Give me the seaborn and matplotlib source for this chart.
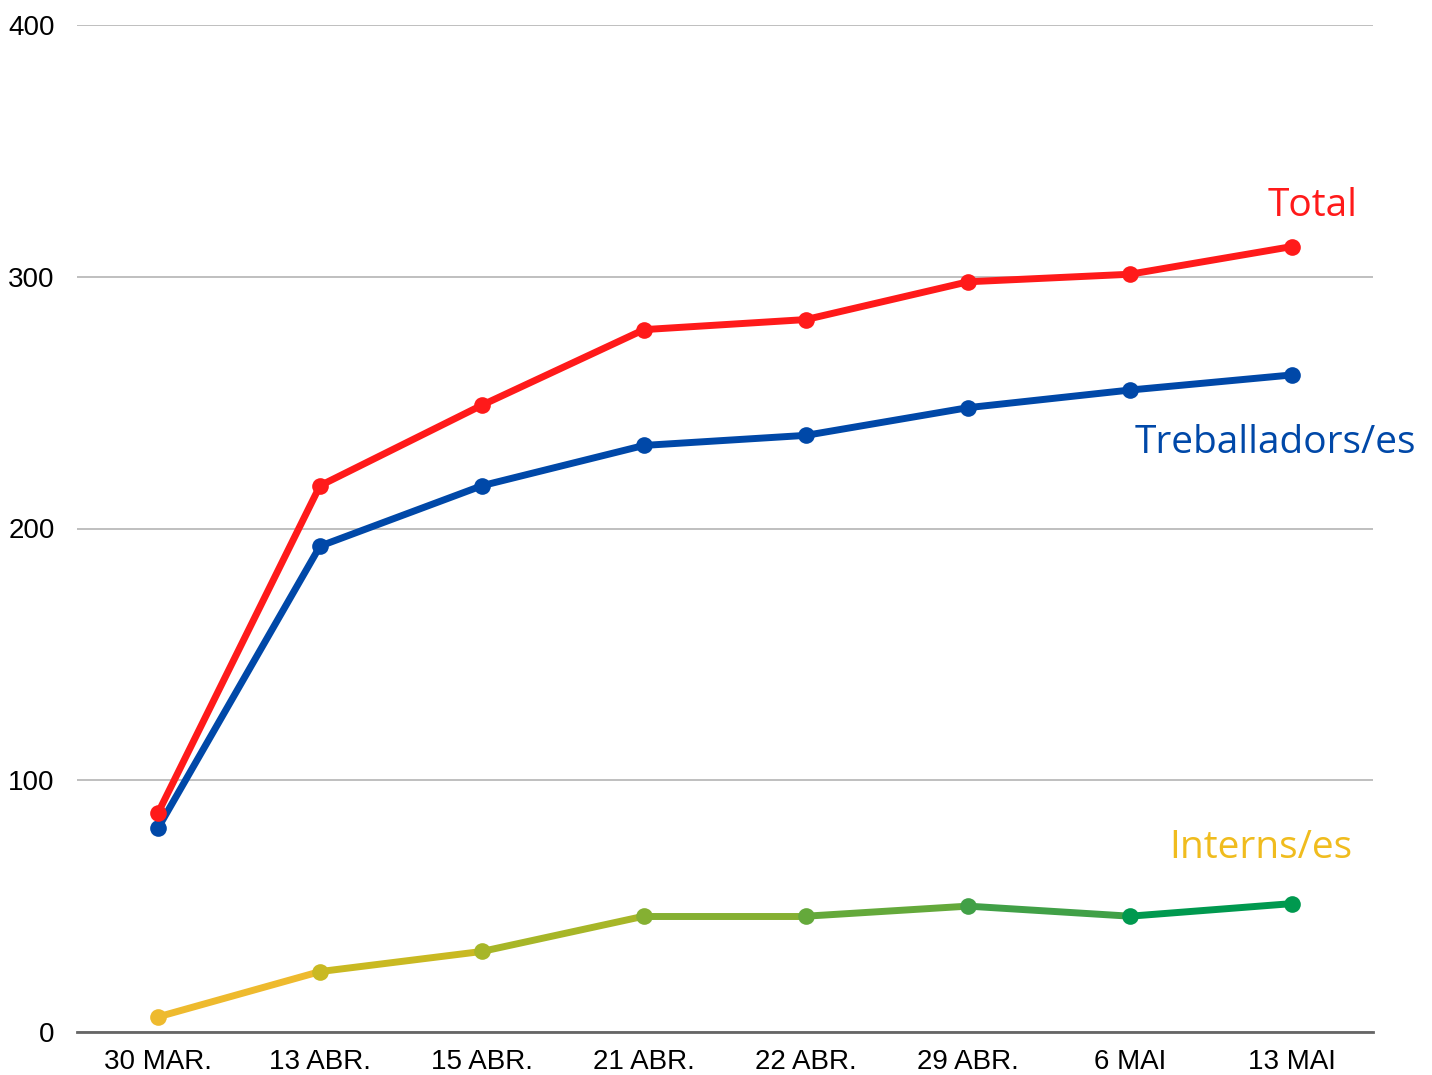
import matplotlib
matplotlib.use("Agg")
import matplotlib.pyplot as plt
import seaborn as sns
import numpy as np
import pandas as pd

# Data
dates = ["30 MAR.", "13 ABR.", "15 ABR.", "21 ABR.", "22 ABR.", "29 ABR.", "6 MAI", "13 MAI"]
total = [87, 217, 249, 279, 283, 298, 301, 312]
treballadors = [81, 193, 217, 233, 237, 248, 255, 261]
interns = [6, 24, 32, 46, 46, 50, 46, 51]

# colour per point of the interns line (yellow -> green)
interns_colors = ["#EEBA2E", "#C9B922", "#A7B628", "#85B032",
                  "#64A93B", "#41A047", "#00994F", "#00994F"]

RED = "#FF1A1A"
BLUE = "#0048A8"

sns.set_style("white")
plt.rcParams['font.family'] = ['Liberation Sans', 'DejaVu Sans']

fig = plt.figure(figsize=(14.32, 10.75), dpi=100)
ax = fig.add_axes([77 / 1432, 1 - 1032 / 1075, (1373 - 77) / 1432, (1032 - 25) / 1075])

x = np.arange(len(dates))
df = pd.DataFrame({"x": x, "Total": total, "Treballadors": treballadors, "Interns": interns})

lw = 5.0
ms = 12

sns.lineplot(data=df, x="x", y="Treballadors", color=BLUE, lw=lw, marker="o",
             markersize=ms, markeredgewidth=0, ax=ax, zorder=3)
sns.lineplot(data=df, x="x", y="Total", color=RED, lw=lw, marker="o",
             markersize=ms, markeredgewidth=0, ax=ax, zorder=4)

# interns: each segment takes the colour of its starting point
for i in range(len(dates) - 1):
    seg = df.iloc[i:i + 2]
    sns.lineplot(data=seg, x="x", y="Interns", color=interns_colors[i], lw=lw,
                 ax=ax, zorder=3)
for i in range(len(dates)):
    ax.plot(x[i], interns[i], "o", color=interns_colors[i], markersize=ms,
            markeredgewidth=0, zorder=5)

# series labels
label_font = ['Open Sans', 'DejaVu Sans']
ax.text(7.13, 328, "Total", color=RED, fontsize=28, ha="center", va="center", family=label_font)
ax.text(6.9, 234, "Treballadors/es", color=BLUE, fontsize=28, ha="center", va="center",
        family=label_font)
ax.text(6.81, 73, "Interns/es", color="#F0BC1E", fontsize=28, ha="center", va="center",
        family=label_font)

ax.set_xlim(-0.5, 7.5)
ax.set_ylim(0, 400)
ax.set_xticks(x)
ax.set_xticklabels(dates)
ax.set_yticks([0, 100, 200, 300, 400])
ax.set_xlabel("")
ax.set_ylabel("")
ax.tick_params(axis="both", length=0, labelsize=20, colors="black")
ax.tick_params(axis="y", pad=16)
ax.tick_params(axis="x", pad=12)

ax.grid(axis="y", color="#BFBFBF", lw=1.4)
ax.set_axisbelow(True)
for side in ["left", "right", "top"]:
    ax.spines[side].set_visible(False)
ax.spines["bottom"].set_color("#666666")
ax.spines["bottom"].set_linewidth(2)
ax.spines["bottom"].set_zorder(2)

fig.savefig("out.png", dpi=100)
